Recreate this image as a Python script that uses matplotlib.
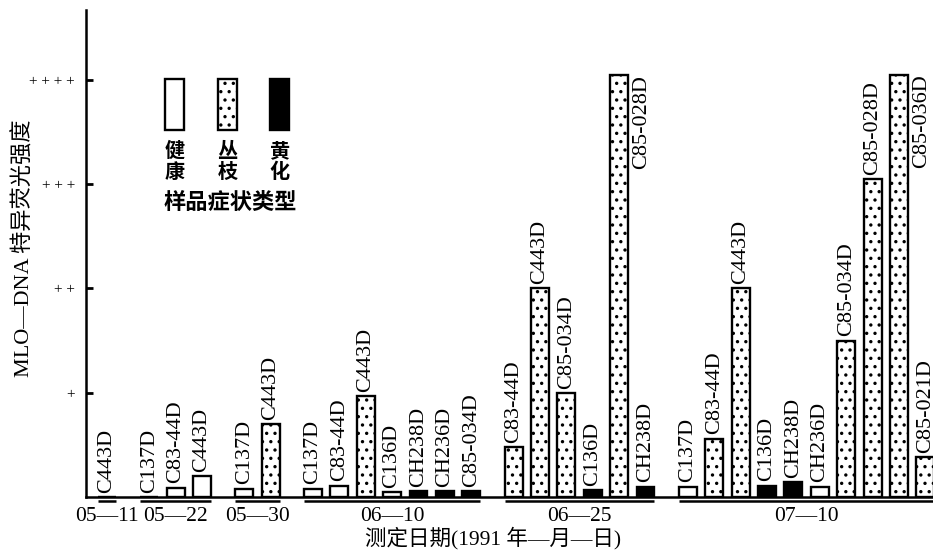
import matplotlib
matplotlib.use('Agg')
import matplotlib.pyplot as plt
from matplotlib.patches import Rectangle
import numpy as np

plt.rcParams['hatch.linewidth'] = 1.2

# ---------------- data ----------------
dates = ['05—11', '05—22', '05—30', '06—10', '06—25', '07—10']
samples = [
    ['C443D'],
    ['C137D', 'C83-44D', 'C443D'],
    ['C137D', 'C443D'],
    ['C137D', 'C83-44D', 'C443D', 'C136D', 'CH238D', 'CH236D', 'C85-034D'],
    ['C83-44D', 'C443D', 'C85-034D', 'C136D', 'C85-028D', 'CH238D'],
    ['C137D', 'C83-44D', 'C443D', 'C136D', 'CH238D', 'CH236D', 'C85-034D',
     'C85-028D', 'C85-036D', 'C85-021D'],
]
intensity = [
    [0.0],
    [0.0, 0.09, 0.2],
    [0.08, 0.70],
    [0.08, 0.11, 0.97, 0.05, 0.06, 0.06, 0.06],
    [0.48, 2.0, 1.0, 0.07, 4.05, 0.10],
    [0.10, 0.56, 2.0, 0.11, 0.14, 0.10, 1.5, 3.05, 4.05, 0.38],
]
# H = 健康 (healthy), W = 丛枝 (witches'-broom), Y = 黄化 (yellows)
symptom = [
    ['H'],
    ['H', 'H', 'H'],
    ['H', 'W'],
    ['H', 'H', 'W', 'H', 'Y', 'Y', 'Y'],
    ['W', 'W', 'W', 'Y', 'W', 'Y'],
    ['H', 'W', 'W', 'Y', 'Y', 'H', 'W', 'W', 'W', 'W'],
]
ytick_vals = [1, 2, 3, 4]
ytick_labels = ['+', '+ +', '+ + +', '+ + + +']
legend_keys = ['H', 'W', 'Y']
legend_names = ['健\n康', '丛\n枝', '黄\n化']
legend_title = '样品症状类型'
ylabel = 'MLO—DNA 特异荧光强度'
xlabel = '测定日期(1991 年—月—日)'

SERIF = ['Liberation Serif', 'Noto Sans CJK SC']
CJK = ['Noto Sans CJK SC', 'DejaVu Sans']

styles = {
    'H': dict(facecolor='white', hatch=None),
    'W': dict(facecolor='white', hatch='..'),
    'Y': dict(facecolor='black', hatch=None),
}

# ---------------- layout ----------------
gap = 0.6
width = 0.68
positions = []
centers = []
start = 0.0
for grp in samples:
    p = start + np.arange(len(grp))
    positions.append(p)
    centers.append(p.mean())
    start = p[-1] + 1 + gap

fig = plt.figure(figsize=(9.33, 5.58), dpi=100)
ax = fig.add_axes([86 / 933, 61 / 558, 1 - 86 / 933, 487 / 558])

for p, vals, syms, names in zip(positions, intensity, symptom, samples):
    for xi, v, s, nm in zip(p, vals, syms, names):
        st = styles[s]
        ax.bar(xi, v, width=width, facecolor=st['facecolor'], hatch=st['hatch'],
               edgecolor='black', linewidth=1.7, zorder=3)
        if v > 4:
            ax.annotate(nm, (xi + width / 2, v), xytext=(3, 0), textcoords='offset points',
                        rotation=90, ha='left', va='top', fontsize=16, family=SERIF)
        else:
            ax.annotate(nm, (xi, v), xytext=(0, 3), textcoords='offset points',
                        rotation=90, ha='center', va='bottom', fontsize=16, family=SERIF)
    # group underline below baseline
    ax.plot([p[0] - width / 2, p[-1] + width / 2], [-0.04, -0.04], color='black',
            lw=1.8, clip_on=False, solid_capstyle='butt')

ax.set_xlim(-0.795, 31.29)
ax.set_ylim(0, 4.67)

for sp in ['top', 'right']:
    ax.spines[sp].set_visible(False)
ax.spines['left'].set_linewidth(1.8)
ax.spines['bottom'].set_linewidth(1.8)

ax.set_yticks(ytick_vals)
ax.set_yticklabels(ytick_labels, family=SERIF, fontsize=11)
ax.tick_params(axis='y', direction='in', length=5, width=2, pad=8)

ax.set_xticks(centers)
ax.set_xticklabels(dates, family=SERIF, fontsize=15.5)
ax.tick_params(axis='x', length=0, pad=7)

ax.set_ylabel(ylabel, family=SERIF, fontsize=16)
ax.yaxis.set_label_coords((35 - 86) / 847, (497 - 248) / 487)
ax.set_xlabel(xlabel, family=SERIF, fontsize=15.5)
ax.xaxis.set_label_coords((493 - 86) / 847, -(527 - 497) / 487)

# legend
aw, ah = 847, 487
def ax_frac(px, py):
    return (px - 86) / aw, (497 - py) / ah

leg_x = [165, 218, 270]
for lx, key, nm in zip(leg_x, legend_keys, legend_names):
    st = styles[key]
    x0, y0 = ax_frac(lx, 130)
    ax.add_patch(Rectangle((x0, y0), 19 / aw, 51 / ah, transform=ax.transAxes,
                           facecolor=st['facecolor'], hatch=st['hatch'],
                           edgecolor='black', linewidth=1.7, zorder=4))
    tx, ty = ax_frac(lx + 9.5, 161)
    ax.text(tx, ty, nm, transform=ax.transAxes, ha='center', va='center',
            fontsize=14.5, family=CJK, fontweight='bold', linespacing=1.0)
tx, ty = ax_frac(230, 202)
ax.text(tx, ty, legend_title, transform=ax.transAxes, ha='center', va='center',
        fontsize=16, family=CJK, fontweight='bold')

fig.savefig('out.png', dpi=100)
